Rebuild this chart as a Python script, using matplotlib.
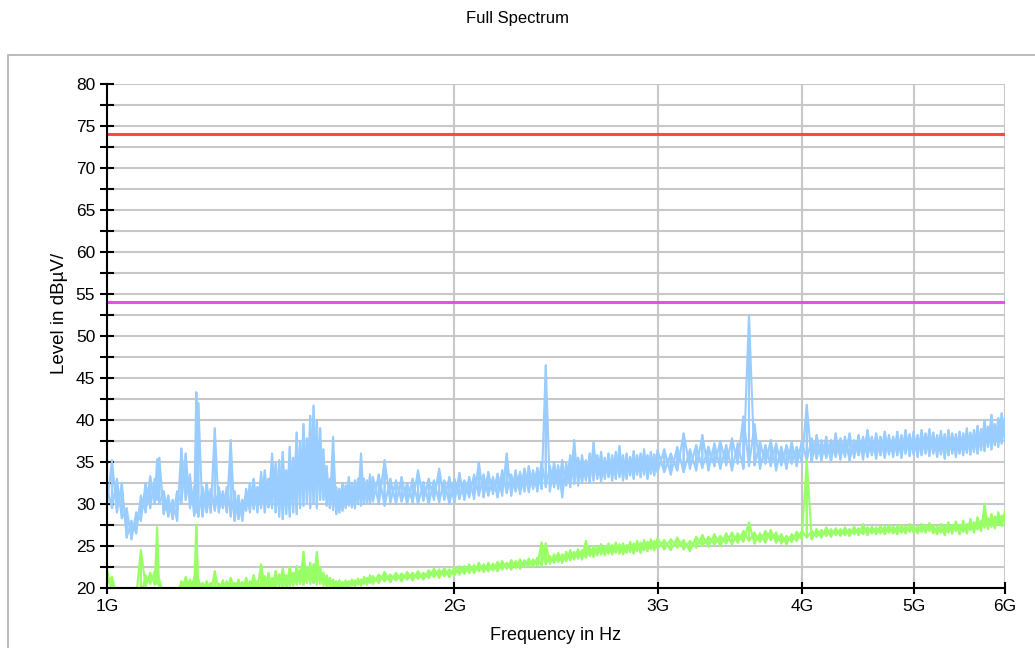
import numpy as np
import matplotlib.pyplot as plt
from matplotlib.patches import Rectangle
from matplotlib.ticker import FixedLocator, NullLocator

plt.rcParams['font.family'] = ['Liberation Sans', 'DejaVu Sans']

# sweep frequencies (MHz), split in three segments
freq_a = [1000, 1010, 1020, 1030, 1040, 1050, 1060, 1070, 1080, 1090,
          1100, 1105, 1110, 1120, 1130, 1140, 1150, 1160, 1170, 1180,
          1190, 1195, 1200, 1210, 1220, 1230, 1240, 1250, 1260, 1270,
          1280, 1290, 1300, 1310, 1320, 1330, 1340, 1350, 1360, 1370,
          1380, 1390, 1400, 1410, 1420, 1430, 1440, 1450, 1460, 1470,
          1480, 1490, 1500, 1510, 1520, 1530, 1540, 1550, 1560, 1570,
          1580, 1590, 1600, 1610, 1620, 1630, 1640, 1650, 1660, 1670,
          1680, 1690, 1700]
freq_b = [1720, 1740, 1760, 1780, 1800, 1820, 1840, 1860, 1880, 1900,
          1920, 1940, 1960, 1980, 2000, 2020, 2040, 2060, 2080, 2100,
          2120, 2140, 2160, 2180, 2200, 2220, 2240, 2260, 2280, 2300,
          2320, 2340, 2360, 2380, 2400, 2420, 2440, 2460, 2480, 2500,
          2520, 2540, 2560, 2580, 2600, 2620, 2640, 2660, 2680, 2700,
          2720, 2740, 2760, 2780, 2800, 2820, 2840, 2860, 2880, 2900,
          2920, 2940, 2960, 2980, 3000]
freq_c = [3040, 3080, 3120, 3160, 3200, 3240, 3280, 3320, 3360, 3400,
          3440, 3480, 3520, 3560, 3600, 3640, 3680, 3720, 3760, 3800,
          3840, 3880, 3920, 3960, 4000, 4040, 4080, 4120, 4160, 4200,
          4240, 4280, 4320, 4360, 4400, 4440, 4480, 4520, 4560, 4600,
          4640, 4680, 4720, 4760, 4800, 4840, 4880, 4920, 4960, 5000,
          5040, 5080, 5120, 5160, 5200, 5240, 5280, 5320, 5360, 5400,
          5440, 5480, 5520, 5560, 5600, 5640, 5680, 5720, 5760, 5800,
          5840, 5880, 5920, 5960, 6000]

# peak detector: min / max level in each frequency bin (dBuV)
peak_lo_a = [30.0, 29.5, 29.0, 28.3, 26.0, 25.8, 26.5, 28.0, 29.0, 29.5,
             30.0, 30.5, 30.0, 28.8, 28.5, 28.2, 28.0, 30.0, 30.5, 29.5,
             28.6, 29.0, 28.5, 28.5, 29.0, 29.0, 29.2, 29.0, 29.5, 29.0,
             28.5, 28.0, 28.2, 28.0, 29.2, 29.0, 29.4, 29.0, 29.5, 29.0,
             29.6, 29.5, 29.0, 28.5, 28.2, 28.8, 28.5, 29.0, 28.8, 29.5,
             29.8, 30.2, 29.5, 30.0, 29.5, 30.5, 30.5, 29.8, 29.5, 29.3,
             28.8, 29.0, 29.2, 29.5, 29.8, 29.6, 29.5, 30.0, 29.8, 30.0,
             30.2, 30.0, 30.3]
peak_hi_a = [32.0, 35.2, 33.0, 32.5, 29.5, 28.0, 29.0, 31.0, 32.5, 33.3,
             33.0, 35.3, 35.5, 31.5, 31.0, 30.5, 31.5, 36.6, 36.0, 33.5,
             32.0, 43.3, 42.0, 32.0, 32.5, 31.8, 39.0, 32.0, 31.5, 32.0,
             37.6, 31.5, 31.0, 30.5, 31.8, 32.5, 33.0, 32.0, 33.8, 34.0,
             33.0, 36.0, 34.8, 35.2, 36.2, 34.0, 36.8, 35.5, 38.5, 37.5,
             39.5, 37.8, 40.5, 41.7, 40.0, 39.0, 36.5, 34.5, 33.0, 38.0,
             32.0, 31.8, 32.5, 32.2, 33.2, 32.5, 32.8, 33.0, 36.0, 33.0,
             32.8, 33.5, 33.2]
peak_lo_b = [30.0, 29.8, 30.2, 30.0, 30.3, 30.0, 30.2, 30.0, 30.4, 30.0,
             30.5, 30.2, 30.5, 30.0, 30.2, 30.6, 30.5, 30.8, 30.6, 31.0,
             30.8, 31.0, 31.2, 30.8, 31.0, 31.3, 31.0, 31.5, 31.2, 31.5,
             31.4, 31.8, 31.5, 31.8, 32.0, 31.5, 32.0, 31.8, 30.8, 32.2,
             32.0, 32.4, 32.2, 32.5, 32.8, 32.5, 32.8, 33.0, 32.7, 33.0,
             33.2, 32.8, 33.0, 33.2, 32.8, 33.0, 33.4, 33.0, 33.5, 33.2,
             33.5, 33.0, 33.6, 33.4, 33.8]
peak_hi_b = [33.5, 35.2, 33.0, 32.8, 33.2, 32.5, 33.0, 34.0, 32.6, 33.0,
             32.8, 34.2, 32.8, 33.2, 33.0, 33.7, 32.8, 33.2, 33.5, 35.0,
             33.5, 33.8, 33.2, 33.6, 34.0, 36.0, 33.5, 34.0, 33.8, 34.2,
             34.5, 34.0, 34.3, 35.0, 46.5, 34.5, 35.0, 34.6, 35.2, 34.8,
             35.8, 37.6, 35.5, 35.8, 35.2, 36.0, 37.3, 35.8, 36.2, 35.5,
             36.0, 35.8, 36.2, 36.9, 35.8, 36.0, 35.6, 36.3, 35.8, 36.0,
             36.5, 35.8, 36.2, 35.9, 36.4]
peak_lo_c = [33.8, 33.5, 34.0, 33.8, 34.2, 34.0, 34.3, 34.0, 34.5, 34.2,
             34.6, 34.0, 34.8, 34.2, 34.5, 34.6, 34.2, 34.8, 34.5, 34.0,
             34.6, 34.2, 34.8, 34.5, 35.0, 35.2, 35.0, 35.4, 35.2, 35.5,
             35.0, 35.6, 35.3, 35.6, 35.2, 35.5, 35.8, 35.3, 35.6, 35.8,
             35.4, 35.8, 35.5, 35.9, 35.6, 35.8, 35.5, 36.0, 35.7, 35.9,
             35.6, 35.8, 36.0, 35.7, 36.0, 35.6, 35.9, 35.4, 35.8, 36.0,
             35.6, 36.0, 35.8, 36.1, 35.9, 36.2, 36.0, 36.4, 36.3, 36.8,
             36.5, 37.0, 36.8, 37.2, 37.5]
peak_hi_c = [36.5, 36.0, 36.8, 38.4, 36.5, 37.0, 38.2, 36.8, 37.2, 37.5,
             37.0, 37.8, 37.2, 40.4, 52.5, 39.5, 37.4, 37.0, 37.6, 37.2,
             36.8, 37.0, 37.4, 36.8, 37.5, 41.8, 37.8, 38.2, 37.6, 38.0,
             37.6, 38.4, 37.8, 38.0, 38.4, 37.6, 38.2, 38.0, 38.8, 38.0,
             38.4, 38.0, 38.6, 38.2, 38.0, 38.6, 38.2, 38.8, 38.3, 38.6,
             38.2, 38.8, 38.4, 38.9, 38.5, 38.2, 38.7, 38.3, 38.8, 38.4,
             38.3, 38.6, 38.4, 39.0, 38.5, 38.8, 39.3, 38.9, 40.0, 39.2,
             40.6, 39.5, 40.2, 40.8, 40.3]

# average detector (dBuV), values under 20 sit below the axis
avg_lo_a = [20.5, 19.5, 19.0, 19.0, 19.0, 19.0, 19.0, 19.0, 20.2, 20.5,
            20.4, 20.5, 19.5, 19.0, 19.0, 19.0, 19.0, 19.5, 19.8, 19.8,
            20.0, 20.2, 19.8, 19.5, 19.8, 19.5, 19.8, 19.7, 19.8, 19.5,
            19.8, 19.8, 19.6, 19.8, 19.5, 19.8, 19.8, 19.9, 20.0, 19.8,
            20.0, 19.8, 20.0, 20.2, 20.0, 20.1, 20.2, 20.3, 20.4, 20.5,
            20.4, 20.6, 20.5, 20.6, 20.4, 20.5, 20.3, 20.2, 20.1, 20.0,
            20.0, 20.1, 20.0, 20.2, 20.1, 20.3, 20.2, 20.4, 20.3, 20.5,
            20.4, 20.6, 20.5]
avg_hi_a = [22.2, 21.3, 19.0, 19.0, 19.0, 19.0, 19.0, 24.5, 21.5, 21.8,
            22.0, 27.2, 21.0, 19.0, 19.0, 19.0, 19.0, 20.8, 21.3, 21.0,
            21.2, 27.5, 21.0, 20.6, 20.8, 20.6, 22.0, 20.5, 20.9, 20.8,
            21.2, 20.6, 21.0, 20.7, 21.2, 20.8, 21.5, 20.8, 22.8, 21.4,
            21.8, 21.2, 22.0, 21.6, 22.3, 21.5, 22.5, 21.8, 22.6, 22.2,
            24.3, 22.5, 23.0, 22.8, 24.3, 22.5, 21.8, 21.5, 21.2, 21.0,
            20.8, 20.9, 20.7, 20.9, 20.8, 21.0, 20.9, 21.1, 21.0, 21.3,
            21.2, 21.5, 21.4]
avg_lo_b = [20.6, 20.8, 20.7, 20.9, 20.8, 21.0, 20.9, 21.1, 21.0, 21.2,
            21.3, 21.2, 21.4, 21.3, 21.5, 21.6, 21.7, 21.8, 21.8, 22.0,
            21.9, 22.0, 22.1, 22.0, 22.2, 22.3, 22.2, 22.4, 22.3, 22.5,
            22.6, 22.5, 22.7, 22.6, 22.8, 22.9, 23.0, 23.1, 23.0, 23.2,
            23.3, 23.4, 23.5, 23.4, 23.6, 23.8, 23.7, 23.9, 24.0, 23.9,
            24.1, 24.0, 24.2, 24.1, 24.0, 24.2, 24.3, 24.1, 24.4, 24.2,
            24.5, 24.4, 24.6, 24.5, 24.7]
avg_hi_b = [21.6, 21.9, 21.6, 21.8, 21.7, 21.9, 21.8, 22.0, 21.8, 22.1,
            22.3, 22.2, 22.4, 22.2, 22.5, 22.6, 22.6, 22.8, 22.7, 23.0,
            22.8, 23.0, 22.9, 23.1, 23.2, 23.0, 23.3, 23.2, 23.4, 23.3,
            23.5, 23.4, 23.6, 25.4, 25.3, 23.8, 24.0, 24.2, 24.0, 24.3,
            24.5, 24.3, 24.6, 24.5, 25.6, 24.8, 25.0, 24.9, 25.2, 25.0,
            25.3, 25.1, 25.4, 25.2, 25.3, 25.1, 25.5, 25.3, 25.6, 25.4,
            25.7, 25.5, 25.8, 25.6, 25.9]
avg_lo_c = [24.6, 24.5, 24.8, 24.6, 24.4, 24.8, 25.0, 24.9, 25.2, 25.0,
            25.3, 25.2, 25.4, 25.5, 25.6, 25.3, 25.5, 25.4, 25.7, 25.4,
            25.3, 25.2, 25.5, 25.6, 25.8, 26.0, 25.8, 26.1, 26.0, 26.2,
            26.1, 26.3, 26.2, 26.3, 26.2, 26.4, 26.3, 26.4, 26.3, 26.5,
            26.4, 26.5, 26.4, 26.6, 26.5, 26.4, 26.6, 26.5, 26.7, 26.6,
            26.5, 26.7, 26.6, 26.8, 26.5, 26.4, 26.6, 26.3, 26.6, 26.5,
            26.8, 26.4, 26.7, 26.5, 26.9, 26.6, 27.0, 26.8, 27.2, 27.0,
            27.3, 27.1, 27.5, 27.4, 27.8]
avg_hi_c = [25.7, 25.8, 26.0, 25.7, 25.6, 26.1, 26.3, 26.1, 26.4, 26.2,
            26.5, 26.6, 26.5, 26.8, 27.8, 26.6, 26.5, 26.8, 26.9, 26.6,
            26.4, 26.2, 26.4, 26.7, 26.8, 35.2, 26.8, 27.0, 26.9, 27.2,
            27.0, 27.1, 27.0, 27.2, 27.0, 27.3, 27.1, 27.6, 27.2, 27.3,
            27.2, 27.4, 27.3, 27.5, 27.3, 27.4, 27.5, 27.3, 27.6, 27.4,
            27.3, 27.6, 27.4, 27.7, 27.5, 27.3, 27.6, 27.4, 27.8, 27.5,
            27.9, 27.5, 28.0, 27.6, 28.2, 27.8, 28.4, 28.0, 30.0, 28.3,
            28.8, 28.5, 29.0, 28.6, 29.2]

# limit lines (dBuV)
limit_peak = 74
limit_avg = 54

y_major = [20, 25, 30, 35, 40, 45, 50, 55, 60, 65, 70, 75, 80]
y_minor = [22.5, 27.5, 32.5, 37.5, 42.5, 47.5, 52.5, 57.5, 62.5, 67.5, 72.5, 77.5]
x_ticks = [1, 2, 3, 4, 5, 6]
x_labels = ['1G', '2G', '3G', '4G', '5G', '6G']

freq = np.array(freq_a + freq_b + freq_c) / 1000.0
peak_lo = np.array(peak_lo_a + peak_lo_b + peak_lo_c)
peak_hi = np.array(peak_hi_a + peak_hi_b + peak_hi_c)
avg_lo = np.array(avg_lo_a + avg_lo_b + avg_lo_c)
avg_hi = np.array(avg_hi_a + avg_hi_b + avg_hi_c)


def trace(ax, f, lo, hi, color):
    # draw each bin as a min/max stroke, both ways round so the band fills in
    x = np.repeat(f, 2)
    ax.plot(x, np.column_stack([lo, hi]).ravel(), color=color, lw=1.5, zorder=3)
    ax.plot(x, np.column_stack([hi, lo]).ravel(), color=color, lw=1.5, zorder=3)


fig = plt.figure(figsize=(10.35, 6.48), dpi=100)
fig.patches.append(Rectangle((8 / 1035, -0.05), 1.1, 0.05 + 593 / 648,
                             transform=fig.transFigure, fill=False,
                             ec='#b0b0b0', lw=1.2))
fig.text(0.5, 1 - 18 / 648, 'Full Spectrum', ha='center', va='center', fontsize=12)

ax = fig.add_axes([107 / 1035, 60 / 648, 898 / 1035, 504 / 648])
ax.set_xscale('log')
ax.set_xlim(1, 6)
ax.set_ylim(20, 80)

trace(ax, freq, peak_lo, peak_hi, '#99ccff')
trace(ax, freq, avg_lo, avg_hi, '#99ff66')
ax.axhline(limit_peak, color='#ff4848', lw=2.2, zorder=4)
ax.axhline(limit_avg, color='#ee4cee', lw=2.2, zorder=4)

ax.set_yticks(y_major)
ax.yaxis.set_minor_locator(FixedLocator(y_minor))
ax.set_xticks(x_ticks)
ax.set_xticklabels(x_labels)
ax.xaxis.set_minor_locator(NullLocator())

ax.tick_params(axis='y', which='both', direction='inout', length=10, width=1.5, labelsize=12.5)
ax.tick_params(axis='x', which='major', direction='inout', length=9, width=1.5, labelsize=12.5)
ax.set_axisbelow(True)
ax.grid(True, axis='y', which='both', color='#c8c8c8', lw=1.5)
ax.grid(True, axis='x', which='major', color='#c8c8c8', lw=1.5)

for side in ['top', 'right']:
    ax.spines[side].set_visible(False)
for side in ['left', 'bottom']:
    ax.spines[side].set_linewidth(1.5)
    ax.spines[side].set_zorder(5)

ax.set_ylabel('Level in dBµV/', fontsize=13.5)
ax.yaxis.set_label_coords(-39 / 898, 0.545)
ax.set_xlabel('Frequency in Hz', fontsize=13, labelpad=9)

fig.savefig('out.png', dpi=100)
